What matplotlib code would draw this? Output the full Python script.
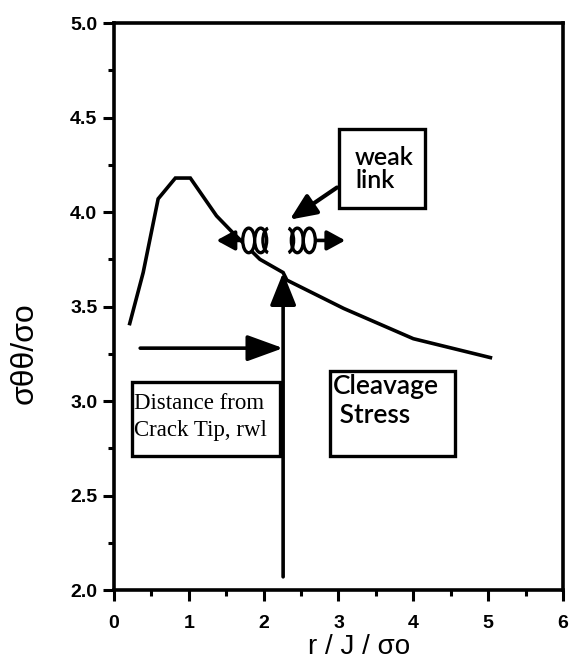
import numpy as np
import matplotlib
matplotlib.use('Agg')
import matplotlib.pyplot as plt
from matplotlib.patches import Ellipse, Arc, Rectangle, FancyArrowPatch

# stress curve
r_curve = [0.21, 0.39, 0.59, 0.82, 1.02, 1.37, 1.59, 1.95, 2.26, 2.31, 3.07, 4.00, 5.03]
s_curve = [3.41, 3.68, 4.07, 4.18, 4.18, 3.98, 3.89, 3.75, 3.68, 3.64, 3.49, 3.33, 3.23]

# characteristic distance rwl and the arrows pointing to it
r_wl = 2.26
r_wl_tip = 3.68
r_wl_bottom = 2.07
dist_arrow_y = 3.28
dist_arrow_x0 = 0.35

# chain (weak link) drawing
chain_y = 3.85
chain_left_tip, chain_right_tip = 1.37, 3.09
left_links = [1.80, 1.96]
left_half = 2.07
right_half = 2.32
right_links = [2.45, 2.61]
weak_arrow_from = (2.98, 4.13)
weak_arrow_to = (2.35, 3.96)

xticks = [0, 1, 2, 3, 4, 5, 6]
yticks = [2.0, 2.5, 3.0, 3.5, 4.0, 4.5, 5.0]

fig = plt.figure(figsize=(5.7, 6.63), dpi=100)
ax = fig.add_axes([0.2, 0.110, 0.7877, 0.8552])
ax.set_xlim(0, 6)
ax.set_ylim(2.0, 5.0)

lw = 2.6
ax.plot(r_curve, s_curve, color='black', lw=lw, solid_joinstyle='miter', zorder=2)

def arrow(p0, p1, hl=14, hw=8, w=lw):
    a = FancyArrowPatch(p0, p1, arrowstyle=f'-|>,head_length={hl / 10:.2f},head_width={hw / 10:.2f}',
                        mutation_scale=10, color='black', lw=w, shrinkA=0, shrinkB=0, zorder=4)
    ax.add_patch(a)

arrow((r_wl, r_wl_bottom), (r_wl, r_wl_tip), hl=20, hw=8)
arrow((dist_arrow_x0, dist_arrow_y), (r_wl, dist_arrow_y), hl=22, hw=8)
arrow(weak_arrow_from, weak_arrow_to, hl=16, hw=7, w=3.0)
arrow((left_links[0] - 0.08, chain_y), (chain_left_tip, chain_y), hl=11, hw=6)
arrow((right_links[-1] + 0.08, chain_y), (chain_right_tip, chain_y), hl=11, hw=6)

ew, eh = 0.16, 0.13
for cx in left_links + right_links:
    ax.add_patch(Ellipse((cx, chain_y), ew, eh, facecolor='white', edgecolor='black',
                         lw=2.4, zorder=5))
ax.add_patch(Arc((left_half, chain_y), ew, eh, theta1=100, theta2=260,
                 color='black', lw=2.4, zorder=5))
ax.add_patch(Arc((right_half, chain_y), ew, eh, theta1=-80, theta2=80,
                 color='black', lw=2.4, zorder=5))

# boxes
box_kw = dict(fill=False, edgecolor='black', lw=2.4, zorder=3)
ax.add_patch(Rectangle((3.01, 4.02), 1.15, 0.42, **box_kw))
ax.add_patch(Rectangle((0.24, 2.71), 1.98, 0.39, **box_kw))
ax.add_patch(Rectangle((2.88, 2.71), 1.68, 0.45, **box_kw))

ax.text(3.22, 4.23, 'weak\nlink', fontsize=18, family='Lato', fontweight='semibold',
        ha='left', va='center', linespacing=1.0)
ax.text(0.27, 2.915, 'Distance from\nCrack Tip, rwl', fontsize=16.5, family='Liberation Serif',
        ha='left', va='center', linespacing=1.4)
ax.text(2.93, 3.0, 'Cleavage\n Stress', fontsize=19, family='Lato', fontweight='semibold',
        ha='left', va='center', linespacing=1.2)

ax.set_xticks(xticks)
ax.set_yticks(yticks)
ax.set_xticks(np.arange(0.5, 6, 1.0), minor=True)
ax.set_yticks(np.arange(2.25, 5.0, 0.5), minor=True)
ax.set_xticklabels([str(t) for t in xticks])
ax.set_yticklabels([f'{t:.1f}' for t in yticks])
for lab in ax.get_xticklabels() + ax.get_yticklabels():
    lab.set_family('Liberation Sans')
    lab.set_fontweight('bold')
    lab.set_fontsize(14)
ax.tick_params(which='major', direction='out', length=8, width=2.2, pad=4)
ax.tick_params(axis='x', which='major', pad=10)
ax.tick_params(which='minor', direction='out', length=4, width=2.2)
for sp in ax.spines.values():
    sp.set_linewidth(2.6)

fig.text(25 / 570, 1 - 353 / 663, 'σθθ/σo', rotation=90, fontsize=23,
         family='Liberation Sans', ha='center', va='center')
fig.text(359 / 570, 1 - 647 / 663, 'r / J / σo', fontsize=20,
         family='Liberation Sans', ha='center', va='center')

fig.savefig('out.png', dpi=100)
